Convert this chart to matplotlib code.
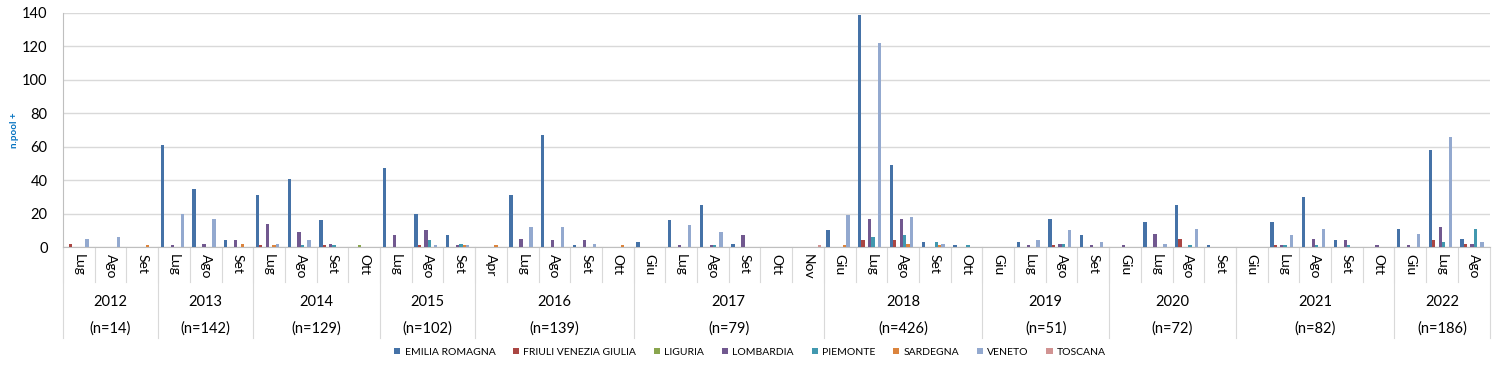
import numpy as np
import matplotlib
matplotlib.use("Agg")
import matplotlib.pyplot as plt
import matplotlib.transforms as mtransforms

# categories: months grouped by year
years = ['2012', '2013', '2014', '2015', '2016', '2017', '2018', '2019', '2020', '2021', '2022']
n_labels = ['(n=14)', '(n=142)', '(n=129)', '(n=102)', '(n=139)', '(n=79)',
            '(n=426)', '(n=51)', '(n=72)', '(n=82)', '(n=186)']
months = [
    ['Lug', 'Ago', 'Set'],
    ['Lug', 'Ago', 'Set'],
    ['Lug', 'Ago', 'Set', 'Ott'],
    ['Lug', 'Ago', 'Set'],
    ['Apr', 'Lug', 'Ago', 'Set', 'Ott'],
    ['Giu', 'Lug', 'Ago', 'Set', 'Ott', 'Nov'],
    ['Giu', 'Lug', 'Ago', 'Set', 'Ott'],
    ['Giu', 'Lug', 'Ago', 'Set'],
    ['Giu', 'Lug', 'Ago', 'Set'],
    ['Giu', 'Lug', 'Ago', 'Set', 'Ott'],
    ['Giu', 'Lug', 'Ago'],
]

regions = ['EMILIA ROMAGNA', 'FRIULI VENEZIA GIULIA', 'LIGURIA', 'LOMBARDIA',
           'PIEMONTE', 'SARDEGNA', 'VENETO', 'TOSCANA']

emilia = [0, 0, 0,  61, 35, 4,  31, 41, 16, 0,  47, 20, 7,  0, 31, 67, 1, 0,
          3, 16, 25, 2, 0, 0,  10, 139, 49, 3, 1,  0, 3, 17, 7,  0, 15, 25, 1,
          0, 15, 30, 4, 0,  11, 58, 5]
friuli = [2, 0, 0,  0, 0, 0,  1, 0, 1, 0,  0, 1, 0,  0, 0, 0, 0, 0,
          0, 0, 0, 0, 0, 0,  0, 4, 4, 0, 0,  0, 0, 1, 0,  0, 0, 5, 0,
          0, 1, 0, 0, 0,  0, 4, 2]
liguria = [0, 0, 0,  0, 0, 0,  0, 0, 0, 1,  0, 0, 0,  0, 0, 0, 0, 0,
           0, 0, 0, 0, 0, 0,  0, 0, 0, 0, 0,  0, 0, 0, 0,  0, 0, 0, 0,
           0, 0, 0, 0, 0,  0, 0, 0]
lombardia = [0, 0, 0,  1, 2, 4,  14, 9, 2, 0,  7, 10, 1,  0, 5, 4, 4, 0,
             0, 1, 1, 7, 0, 0,  0, 17, 17, 0, 0,  0, 1, 2, 1,  1, 8, 0, 0,
             0, 1, 5, 4, 1,  1, 12, 2]
piemonte = [0, 0, 0,  0, 0, 0,  0, 1, 1, 0,  0, 4, 2,  0, 0, 0, 0, 0,
            0, 0, 1, 0, 0, 0,  0, 6, 7, 3, 1,  0, 0, 2, 0,  0, 0, 1, 0,
            0, 1, 1, 1, 0,  0, 3, 11]
sardegna = [0, 0, 1,  0, 0, 2,  1, 0, 0, 0,  0, 0, 1,  1, 0, 0, 0, 1,
            0, 0, 0, 0, 0, 0,  1, 0, 2, 1, 0,  0, 0, 0, 0,  0, 0, 0, 0,
            0, 0, 0, 0, 0,  0, 0, 0]
veneto = [5, 6, 0,  20, 17, 0,  2, 4, 0, 0,  0, 1, 1,  0, 12, 12, 2, 0,
          0, 13, 9, 0, 0, 0,  19, 122, 18, 2, 0,  0, 4, 10, 3,  0, 2, 11, 0,
          0, 7, 11, 0, 0,  8, 66, 3]
toscana = [0, 0, 0,  0, 0, 0,  0, 0, 0, 0,  0, 0, 0,  0, 0, 0, 0, 0,
           0, 0, 0, 0, 0, 1,  0, 0, 0, 0, 0,  0, 0, 0, 0,  0, 0, 0, 0,
           0, 0, 0, 0, 0,  0, 0, 0]

series = [emilia, friuli, liguria, lombardia, piemonte, sardegna, veneto, toscana]
colors = ['#4572A7', '#AA4643', '#89A54E', '#71588F', '#4198AF', '#DB843D', '#93A9CF', '#D19392']

plt.rcParams['font.family'] = ['Lato', 'DejaVu Sans']

fig = plt.figure(figsize=(15, 3.66), dpi=100)
ax = fig.add_axes([0.042, 0.325, 0.951, 0.6395])

n_cat = sum(len(m) for m in months)
x = np.arange(n_cat)
w = 0.104
for i, (vals, c, name) in enumerate(zip(series, colors, regions)):
    ax.bar(x + (i - 3.5) * w, vals, width=w, color=c, label=name, zorder=3)

ax.set_xlim(-0.5, n_cat - 0.5)
ax.set_ylim(0, 140)
ax.set_yticks(range(0, 141, 20))
ax.tick_params(axis='y', labelsize=10.5, length=0, pad=11)
ax.set_xticks([])
ax.grid(axis='y', color='#D9D9D9', linewidth=1, zorder=0)
for s in ['top', 'right']:
    ax.spines[s].set_visible(False)
ax.spines['left'].set_color('#BFBFBF')
ax.spines['bottom'].set_color('#BFBFBF')

ax.set_ylabel('n.pool +', color='#0070C0', fontsize=7, fontweight='bold', labelpad=2)

# multi-level category axis
trans = mtransforms.blended_transform_factory(ax.transData, ax.transAxes)
line_kw = dict(color='#D9D9D9', linewidth=0.8, transform=trans, clip_on=False)
k = 0
year_edges = [0]
for yr, ms in zip(years, months):
    for m in ms:
        ax.plot([k - 0.5, k - 0.5], [0, -0.15], **line_kw)
        ax.text(k, -0.03, m, rotation=-90, ha='center', va='top', fontsize=10,
                transform=trans)
        k += 1
    year_edges.append(k)
for e in year_edges:
    ax.plot([e - 0.5, e - 0.5], [0, -0.39], **line_kw)
for j, (yr, nl) in enumerate(zip(years, n_labels)):
    cx = (year_edges[j] + year_edges[j + 1] - 1) / 2
    ax.text(cx, -0.235, yr, ha='center', va='center', fontsize=10.5, transform=trans)
    ax.text(cx, -0.35, nl, ha='center', va='center', fontsize=10.5, transform=trans)

fig.legend(loc='center', bbox_to_anchor=(0.5, 0.038), ncol=8, frameon=False,
           fontsize=7.5, handlelength=0.6, handleheight=0.6, handletextpad=0.4,
           columnspacing=1.7)

fig.savefig('out.png', dpi=100)
